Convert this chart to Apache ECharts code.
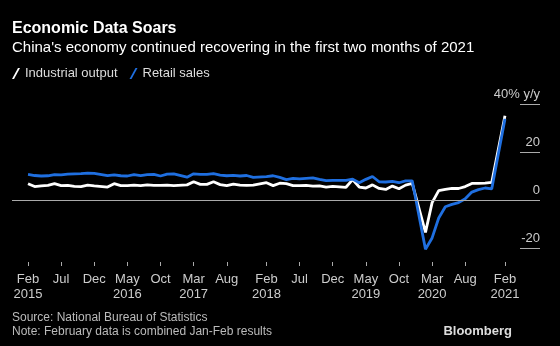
<!DOCTYPE html>
<html>
<head>
<meta charset="utf-8">
<script src="https://cdn.jsdelivr.net/npm/echarts@6/dist/echarts.min.js"></script>
<style>
html,body{margin:0;padding:0;background:#000;}
#chart{width:560px;height:346px;}
</style>
</head>
<body>
<div id="chart"></div>
<script>
// Months (Jan-Feb combined, so no January points)
var months = [
'2015-02','2015-03','2015-04','2015-05','2015-06','2015-07','2015-08','2015-09','2015-10','2015-11','2015-12',
'2016-02','2016-03','2016-04','2016-05','2016-06','2016-07','2016-08','2016-09','2016-10','2016-11','2016-12',
'2017-02','2017-03','2017-04','2017-05','2017-06','2017-07','2017-08','2017-09','2017-10','2017-11','2017-12',
'2018-02','2018-03','2018-04','2018-05','2018-06','2018-07','2018-08','2018-09','2018-10','2018-11','2018-12',
'2019-02','2019-03','2019-04','2019-05','2019-06','2019-07','2019-08','2019-09','2019-10','2019-11','2019-12',
'2020-02','2020-03','2020-04','2020-05','2020-06','2020-07','2020-08','2020-09','2020-10','2020-11','2020-12',
'2021-02'
];
var industrialOutput = [
6.8,5.6,5.9,6.1,6.8,6.0,6.1,5.7,5.6,6.2,5.9,
5.4,6.8,6.0,6.0,6.2,6.0,6.3,6.1,6.1,6.2,6.0,
6.3,7.6,6.5,6.5,7.6,6.4,6.0,6.6,6.2,6.1,6.2,
7.2,6.0,7.0,6.8,6.0,6.0,6.1,5.8,5.9,5.4,5.7,
5.3,8.5,5.4,5.0,6.3,4.8,4.4,5.8,4.7,6.2,6.9,
-13.5,-1.1,3.9,4.4,4.8,4.8,5.6,6.9,6.9,7.0,7.3,
35.1
];
var retailSales = [
10.7,10.2,10.0,10.1,10.6,10.5,10.8,10.9,11.0,11.2,11.1,
10.2,10.5,10.1,10.0,10.6,10.2,10.6,10.7,10.0,10.8,10.9,
9.5,10.9,10.7,10.7,11.0,10.4,10.1,10.3,10.0,10.2,9.4,
9.7,10.1,9.4,8.5,9.0,8.8,9.0,9.2,8.6,8.1,8.2,
8.2,8.7,7.2,8.6,9.8,7.6,7.5,7.8,7.2,8.0,8.0,
-20.5,-15.8,-7.5,-2.8,-1.8,-1.1,0.5,3.3,4.3,5.0,4.6,
33.8
];
var xTickMonths = ['2015-02','2015-07','2015-12','2016-05','2016-10','2017-03','2017-08',
  '2018-02','2018-07','2018-12','2019-05','2019-10','2020-03','2020-08','2021-02'];
var yTickStep = 20;
var monthNames = ['Jan','Feb','Mar','Apr','May','Jun','Jul','Aug','Sep','Oct','Nov','Dec'];

// month index: Feb 2015 = 0
function mi(s) {
  var p = s.split('-');
  return (+p[0] - 2015) * 12 + (+p[1] - 2);
}
var ipData = months.map(function (m, i) { return [mi(m), industrialOutput[i]]; });
var rsData = months.map(function (m, i) { return [mi(m), retailSales[i]]; });
var xTicks = xTickMonths.map(mi);
var yearShown = {};
var tickLabelMap = {};
xTickMonths.forEach(function (m, i) {
  var p = m.split('-');
  var lab = monthNames[+p[1] - 1];
  if (!yearShown[p[0]]) { yearShown[p[0]] = true; lab += '\n' + p[0]; }
  tickLabelMap[xTicks[i]] = lab;
});

var FONT = '"Liberation Sans", Arial, sans-serif';
var hiddenLine = { show: false, onZero: false };
var chart = echarts.init(document.getElementById('chart'));
chart.setOption({
  backgroundColor: '#000',
  animation: false,
  title: [
    { text: 'Economic Data Soars',
      subtext: "China's economy continued recovering in the first two months of 2021",
      left: 7, top: 16, itemGap: 3,
      textStyle: { color: '#fff', fontSize: 16, fontWeight: 'bold', fontFamily: FONT },
      subtextStyle: { color: '#fff', fontSize: 15, fontFamily: FONT } },
    { text: 'Source: National Bureau of Statistics\nNote: February data is combined Jan-Feb results',
      left: 7, top: 306,
      textStyle: { color: '#bbb', fontSize: 12, fontWeight: 'normal', lineHeight: 14, fontFamily: FONT } },
    { text: 'Bloomberg', right: 43, top: 320,
      textStyle: { color: '#ddd', fontSize: 13, fontWeight: 'bold', fontFamily: FONT } }
  ],
  legend: {
    left: 7, top: 62, itemWidth: 8, itemHeight: 11, itemGap: 12,
    icon: 'path://M0,11 L6,0 L8,0 L2,11 Z',
    textStyle: { color: '#ddd', fontSize: 13, fontFamily: FONT },
    data: ['Industrial output', 'Retail sales']
  },
  grid: { left: 12, right: 40, top: 104, bottom: 98 },
  xAxis: {
    type: 'value',
    min: -2.42,
    max: 74.27,
    axisLine: hiddenLine,
    splitLine: { show: false },
    offset: 14,
    axisTick: { show: true, length: 4, customValues: xTicks, lineStyle: { color: '#aaa' } },
    axisLabel: {
      customValues: xTicks, margin: 10, color: '#ccc', fontSize: 13, lineHeight: 15,
      fontFamily: FONT,
      formatter: function (v) { return tickLabelMap[v] || ''; }
    }
  },
  yAxis: {
    type: 'value', position: 'right', min: -20, max: 40, interval: yTickStep,
    axisLine: hiddenLine,
    splitLine: { show: false },
    axisTick: { show: true, inside: false, length: 20, lineStyle: { color: '#aaa' } },
    axisLabel: {
      margin: 20, align: 'right', verticalAlign: 'bottom',
      padding: [0, 0, 3, 0], color: '#ccc', fontSize: 13, fontFamily: FONT,
      formatter: function (v) { return v === 40 ? '40% y/y' : String(v); }
    }
  },
  series: [
    { type: 'line', name: 'zero', data: [], z: 1, silent: true,
      markLine: { silent: true, symbol: 'none', label: { show: false },
        lineStyle: { color: '#aaa', width: 1, type: 'solid' },
        data: [{ yAxis: 0 }] } },
    { type: 'line', name: 'Industrial output', data: ipData, z: 3, clip: false,
      showSymbol: false, color: '#ffffff',
      lineStyle: { color: '#ffffff', width: 2.8 } },
    { type: 'line', name: 'Retail sales', data: rsData, z: 4, clip: false,
      showSymbol: false, color: '#1f6fe0',
      lineStyle: { color: '#1f6fe0', width: 2.8 } }
  ]
});
</script>
</body>
</html>
